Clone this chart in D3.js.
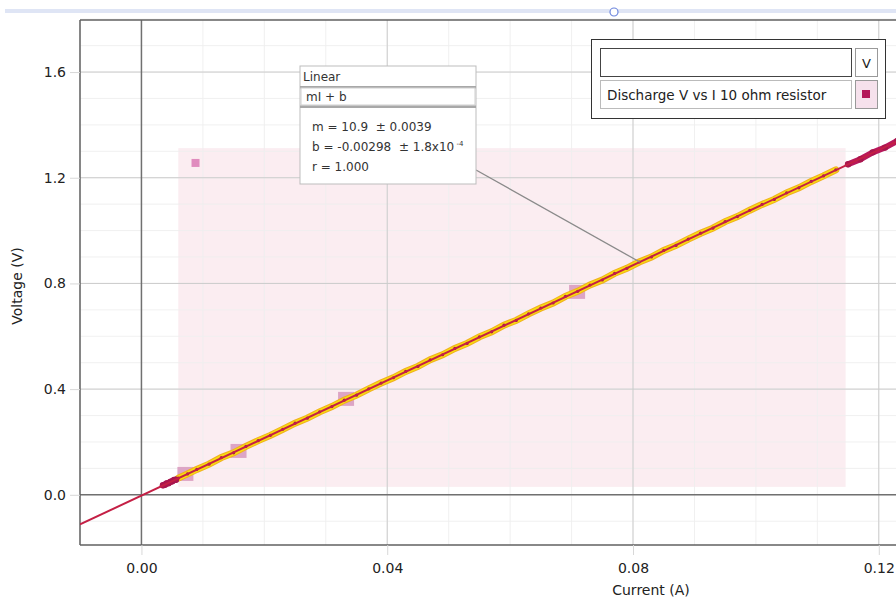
<!DOCTYPE html>
<html><head><meta charset="utf-8">
<script src="https://cdn.jsdelivr.net/npm/d3@7"></script>
<style>body{margin:0;background:#fff;}svg{display:block;font-family:"DejaVu Sans",sans-serif;}</style>
</head><body>
<svg id="c" width="896" height="597"></svg>
<script>
// ---- data ----
const current = [0.0035,0.0038,0.0041,0.0044,0.0047,0.0050,0.0053,0.0056,0.0060,0.0075,0.009,0.011,0.013,0.015,0.017,0.019,0.021,0.023,0.025,0.027,0.029,0.031,0.033,0.035,0.037,0.039,0.041,0.043,0.045,0.047,0.049,0.051,0.053,0.055,0.057,0.059,0.061,0.063,0.065,0.067,0.069,0.071,0.073,0.075,0.077,0.079,0.081,0.083,0.085,0.087,0.089,0.091,0.093,0.095,0.097,0.099,0.101,0.103,0.105,0.107,0.109,0.111,0.113,0.115,0.117,0.119,0.121,0.123,0.125];
const voltage = [0.036,0.038,0.043,0.044,0.049,0.051,0.056,0.057,0.063,0.079,0.096,0.116,0.141,0.159,0.183,0.205,0.225,0.248,0.271,0.290,0.314,0.334,0.358,0.377,0.401,0.423,0.443,0.467,0.486,0.511,0.530,0.554,0.573,0.598,0.617,0.642,0.660,0.685,0.707,0.726,0.751,0.770,0.794,0.813,0.838,0.857,0.881,0.900,0.925,0.944,0.968,0.990,1.009,1.034,1.053,1.077,1.099,1.118,1.143,1.162,1.186,1.207,1.230,1.251,1.270,1.296,1.314,1.339,1.360];
const markedCurrent = [0.00715,0.0158,0.0333,0.0709];
const markedVoltage = [0.079,0.166,0.363,0.768];
const strayCurrent = [0.0088];
const strayVoltage = [1.256];
const selectionCurrent = [0.006, 0.1146];
const selectionVoltage = [0.030, 1.312];
const fitSlope = 10.9, fitIntercept = -0.00298;
const annotationCurrent = 0.0811;
const xTicks = [0, 0.04, 0.08, 0.12];
const yTicks = [0, 0.4, 0.8, 1.2, 1.6];
const xMinor = d3.range(-0.01, 0.1235, 0.01);
const yMinor = d3.range(-0.1, 1.81, 0.1);
const seriesName = "Discharge V vs I 10 ohm resistor";
const fitLines = ["m = 10.9\u00a0\u00a0\u00b1 0.0039", "b = -0.00298\u00a0\u00a0\u00b1 1.8x10", "r = 1.000"];

// ---- layout ----
const svg = d3.select("#c");
const L = 80, R = 896, T = 20, B = 545;
const x = d3.scaleLinear().domain([-0.01, 0.1228]).range([L, R]);
const y = d3.scaleLinear().domain([-0.19, 1.797]).range([B, T]);

// top bar
svg.append("rect").attr("x",5).attr("y",9).attr("width",891).attr("height",4).attr("fill","#dfe5f5");
svg.append("circle").attr("cx",614).attr("cy",12).attr("r",4).attr("fill","#fff").attr("stroke","#6d86dd").attr("stroke-width",1.2);

const g = svg.append("g");
g.append("defs").append("clipPath").attr("id","clip").append("rect").attr("x",L).attr("y",T).attr("width",R-L).attr("height",B-T);

// selection region
g.append("rect")
  .attr("x", x(selectionCurrent[0])).attr("y", y(selectionVoltage[1]))
  .attr("width", x(selectionCurrent[1]) - x(selectionCurrent[0]))
  .attr("height", y(selectionVoltage[0]) - y(selectionVoltage[1]))
  .attr("fill", "#fbedf1");

// minor grid
g.selectAll(".vx").data(xMinor).join("line")
  .attr("x1", d=>x(d)).attr("x2", d=>x(d)).attr("y1", T).attr("y2", B)
  .attr("stroke", "#eeeeee").attr("stroke-opacity",0.9).attr("stroke-width", 1);
g.selectAll(".hy").data(yMinor).join("line")
  .attr("y1", d=>y(d)).attr("y2", d=>y(d)).attr("x1", L).attr("x2", R)
  .attr("stroke", "#eeeeee").attr("stroke-opacity",0.9).attr("stroke-width", 1);
// major grid
g.selectAll(".vX").data(xTicks.filter(d=>d!==0)).join("line")
  .attr("x1", d=>x(d)).attr("x2", d=>x(d)).attr("y1", T).attr("y2", B)
  .attr("stroke", "#cccccc").attr("stroke-width", 1);
g.selectAll(".hY").data(yTicks.filter(d=>d!==0)).join("line")
  .attr("y1", d=>y(d)).attr("y2", d=>y(d)).attr("x1", L).attr("x2", R)
  .attr("stroke", "#cccccc").attr("stroke-width", 1);

// zero lines
g.append("line").attr("x1", x(0)).attr("x2", x(0)).attr("y1", T).attr("y2", B).attr("stroke","#707070").attr("stroke-width",1.5);
g.append("line").attr("y1", y(0)).attr("y2", y(0)).attr("x1", L).attr("x2", R).attr("stroke","#707070").attr("stroke-width",1.5);

// borders
g.append("line").attr("x1",L).attr("x2",L).attr("y1",T).attr("y2",B).attr("stroke","#606060").attr("stroke-width",1.5);
g.append("line").attr("x1",L).attr("x2",R).attr("y1",B).attr("y2",B).attr("stroke","#606060").attr("stroke-width",1.5);
g.append("line").attr("x1",L).attr("x2",R).attr("y1",T).attr("y2",T).attr("stroke","#606060").attr("stroke-width",1.5);

// axes
const xAxis = d3.axisBottom(x).tickValues(xTicks).tickFormat(d3.format(".2f")).tickSize(10).tickPadding(8);
const yAxis = d3.axisLeft(y).tickValues(yTicks).tickFormat(d3.format(".1f")).tickSize(10).tickPadding(4);
const gx = svg.append("g").attr("transform",`translate(0,${B})`).call(xAxis);
const gy = svg.append("g").attr("transform",`translate(${L},0)`).call(yAxis);
[gx, gy].forEach(a => {
  a.select(".domain").remove();
  a.selectAll(".tick line").attr("stroke","#d8d8d8");
  a.selectAll(".tick text").attr("fill","#222").style("font-size","14px").style("font-family","DejaVu Sans");
});

svg.append("text").attr("x", 651).attr("y", 595).attr("text-anchor","middle")
  .style("font-size","14px").attr("fill","#222").text("Current (A)");
svg.append("text").attr("transform","translate(22,286) rotate(-90)").attr("text-anchor","middle")
  .style("font-size","14px").attr("fill","#222").text("Voltage (V)");

// data
const pts = current.map((c,i)=>({c, v: voltage[i]}));
const inSel = p => p.c >= selectionCurrent[0] && p.c <= selectionCurrent[1] && p.v >= selectionVoltage[0] && p.v <= selectionVoltage[1];
const line = d3.line().x(d=>x(d.c)).y(d=>y(d.v));
const plot = g.append("g").attr("clip-path","url(#clip)");
const sel = pts.filter(inSel);
const unselLow = pts.filter(p=>p.c < selectionCurrent[0]);
const unselHigh = pts.filter(p=>p.c > selectionCurrent[1]);

// marked squares
plot.selectAll(".mk").data(markedCurrent).join("rect")
  .attr("x", d=>x(d)-8).attr("y", (d,i)=>y(markedVoltage[i])-7).attr("width",16).attr("height",14)
  .attr("fill","#d99cc0").attr("opacity",0.9);
plot.selectAll(".st").data(strayCurrent).join("rect")
  .attr("x", d=>x(d)-4).attr("y", (d,i)=>y(strayVoltage[i])-4).attr("width",8).attr("height",8)
  .attr("fill","#e08cbe");

// selected band
plot.append("path").datum(sel).attr("d", line).attr("fill","none").attr("stroke","#f0b020").attr("stroke-width",7).attr("stroke-linecap","round");
plot.append("path").datum(sel).attr("d", line).attr("fill","none").attr("stroke","#f8dc10").attr("stroke-width",5).attr("stroke-linecap","round");
// unselected bands
[unselLow, unselHigh].forEach(arr => {
  plot.append("path").datum(arr).attr("d", line).attr("fill","none").attr("stroke","#b8185c").attr("stroke-width",6).attr("stroke-linecap","round");
});
// points
plot.selectAll(".pt").data(pts).join("circle")
  .attr("cx", d=>x(d.c)).attr("cy", d=>y(d.v)).attr("r", d=>inSel(d)?1.6:3.2)
  .attr("fill","#a8164e");

// fit line
const fx = x.domain();
plot.append("line")
  .attr("x1", x(fx[0])).attr("y1", y(fitSlope*fx[0]+fitIntercept))
  .attr("x2", x(fx[1])).attr("y2", y(fitSlope*fx[1]+fitIntercept))
  .attr("stroke","#c41f45").attr("stroke-width",2);

// annotation
const bx = 300, by = 66, bw = 176, bh = 118;
svg.append("line").attr("x1", bx+bw).attr("y1", 170)
  .attr("x2", x(annotationCurrent)).attr("y2", y(fitSlope*annotationCurrent+fitIntercept))
  .attr("stroke","#8a8a8a").attr("stroke-width",1.3);
svg.append("rect").attr("x",bx).attr("y",by).attr("width",bw).attr("height",bh).attr("fill","#fff").attr("stroke","#bdbdbd");
svg.append("text").attr("x",bx+3).attr("y",by+15).style("font-size","12px").attr("fill","#333").text("Linear");
svg.append("rect").attr("x",bx).attr("y",by+20).attr("width",bw).attr("height",2.5).attr("fill","#a8a8a8");
svg.append("rect").attr("x",bx+1).attr("y",by+22).attr("width",bw-2).attr("height",17).attr("fill","#fff").attr("stroke","#cfcfcf");
svg.append("text").attr("x",bx+6).attr("y",by+35).style("font-size","12px").attr("fill","#333").text("mI + b");
svg.append("rect").attr("x",bx).attr("y",by+39.5).attr("width",bw).attr("height",2.5).attr("fill","#a8a8a8");
fitLines.forEach((t,i)=>{
  const tx = svg.append("text").attr("x",bx+12).attr("y",by+65+i*20).style("font-size","12px").attr("fill","#333").text(t);
  if (i===1) tx.append("tspan").attr("dy",-5).style("font-size","7px").text(" -4");
});

// legend
svg.append("rect").attr("x",591.5).attr("y",39.5).attr("width",294).attr("height",79).attr("fill","#fff").attr("stroke","#333");
svg.append("rect").attr("x",600.5).attr("y",48.5).attr("width",251).attr("height",28).attr("fill","#fff").attr("stroke","#444");
svg.append("rect").attr("x",855.5).attr("y",48.5).attr("width",22).attr("height",28).attr("fill","#fff").attr("stroke","#999");
svg.append("text").attr("x",866.5).attr("y",68).attr("text-anchor","middle").style("font-size","13px").attr("fill","#222").text("V");
svg.append("rect").attr("x",600.5).attr("y",80.5).attr("width",251).attr("height",28).attr("fill","#fff").attr("stroke","#bbb");
svg.append("text").attr("x",607).attr("y",99.5).style("font-size","13.5px").attr("fill","#222").text(seriesName);
svg.append("rect").attr("x",855.5).attr("y",80.5).attr("width",22).attr("height",28).attr("fill","#f6e1ec").attr("stroke","#999");
svg.append("rect").attr("x",862).attr("y",90).attr("width",8).attr("height",8).attr("fill","#b4185a");
</script>
</body></html>
